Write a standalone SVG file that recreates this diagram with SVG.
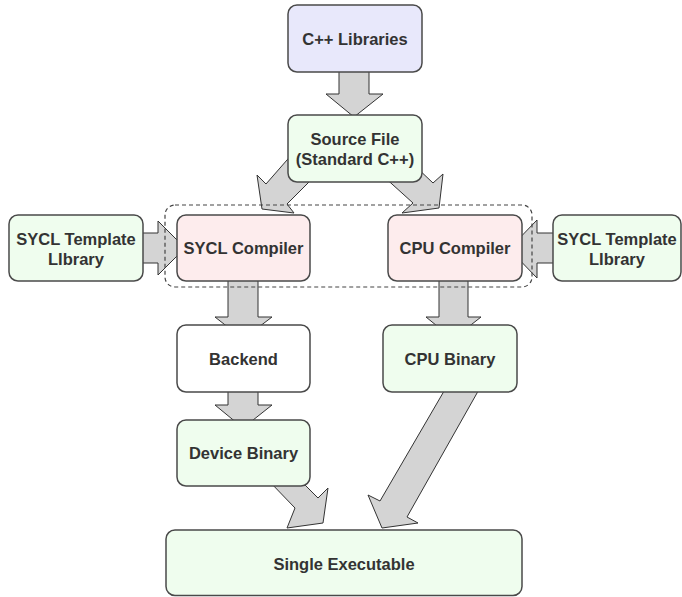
<svg xmlns="http://www.w3.org/2000/svg" width="682" height="597" viewBox="0 0 682 597">
  <style>
    .box { stroke: #4a4a4a; stroke-width: 1.5; }
    .lav { fill: #e8e8fb; }
    .grn { fill: #effdee; }
    .pnk { fill: #fdeced; }
    .wht { fill: #ffffff; }
    .arrow { fill: #d4d4d4; stroke: #333333; stroke-width: 1; stroke-linejoin: miter; }
    .group { fill: none; stroke: #444444; stroke-width: 1.2; stroke-dasharray: 4 3; }
    text { font-family: "Liberation Sans", Arial, Helvetica, sans-serif; font-weight: bold; font-size: 16.5px; fill: #333333; text-anchor: middle; }
  </style>
  <rect width="682" height="597" fill="#ffffff"/>

  <!-- block arrows (drawn beneath the boxes) -->
  <g id="connectors">
    <polygon class="arrow" points="339,70 369,70 369,94 383,94 354,117 326,94 339,94"/>
    <polygon class="arrow" points="294,152 266,184 257,175 262,209 294,213 287,204 317,174"/>
    <polygon class="arrow" points="382,175 413,203 402,213 439,208 443,174 433,183 414,165"/>
    <polygon class="arrow" points="140,233 158,233 158,221 185,248 158,275 158,263 140,263"/>
    <polygon class="arrow" points="556,233 537,233 537,220 509,249 537,278 537,263 556,263"/>
    <polygon class="arrow" points="228,279 258,279 258,317 272,317 243,339 215,317 228,317"/>
    <polygon class="arrow" points="439,279 468,279 468,317 481,317 453,339 426,317 439,317"/>
    <polygon class="arrow" points="228,390 258,390 258,405 272,405 243,428 215,405 228,405"/>
    <polygon class="arrow" points="268,480 295,508 287,528 323,523 328,488 318,498 300,480"/>
    <polygon class="arrow" points="447,386 380,501 368,495 382,528 418,523 407,517 481,386"/>
  </g>

  <!-- dashed grouping around the two compilers -->
  <rect class="group" x="165" y="205" width="367" height="82" rx="10"/>

  <g id="cpp-libraries">
    <rect class="box lav" x="288" y="5" width="134" height="67" rx="9"/>
    <text x="355" y="44.5">C++ Libraries</text>
  </g>
  <g id="source-file">
    <rect class="box grn" x="288" y="115" width="134" height="67" rx="9"/>
    <text x="355" y="145">Source File</text>
    <text x="355" y="164.5">(Standard C++)</text>
  </g>
  <g id="sycl-template-left">
    <rect class="box grn" x="9" y="215" width="134" height="66" rx="9"/>
    <text x="76" y="245">SYCL Template</text>
    <text x="76" y="264.5">LIbrary</text>
  </g>
  <g id="sycl-compiler">
    <rect class="box pnk" x="177" y="215" width="133" height="66" rx="9"/>
    <text x="243.5" y="254">SYCL Compiler</text>
  </g>
  <g id="cpu-compiler">
    <rect class="box pnk" x="388" y="215" width="134" height="66" rx="9"/>
    <text x="455" y="254">CPU Compiler</text>
  </g>
  <g id="sycl-template-right">
    <rect class="box grn" x="553" y="215" width="128" height="66" rx="9"/>
    <text x="617" y="245">SYCL Template</text>
    <text x="617" y="264.5">LIbrary</text>
  </g>
  <g id="backend">
    <rect class="box wht" x="177" y="325" width="133" height="67" rx="9"/>
    <text x="243.5" y="364.5">Backend</text>
  </g>
  <g id="cpu-binary">
    <rect class="box grn" x="383" y="325" width="134" height="67" rx="9"/>
    <text x="450" y="364.5">CPU Binary</text>
  </g>
  <g id="device-binary">
    <rect class="box grn" x="177" y="420" width="133" height="66" rx="9"/>
    <text x="243.5" y="459">Device Binary</text>
  </g>
  <g id="single-executable">
    <rect class="box grn" x="166" y="530" width="356" height="65.5" rx="9"/>
    <text x="344" y="569.5">Single Executable</text>
  </g>
</svg>
